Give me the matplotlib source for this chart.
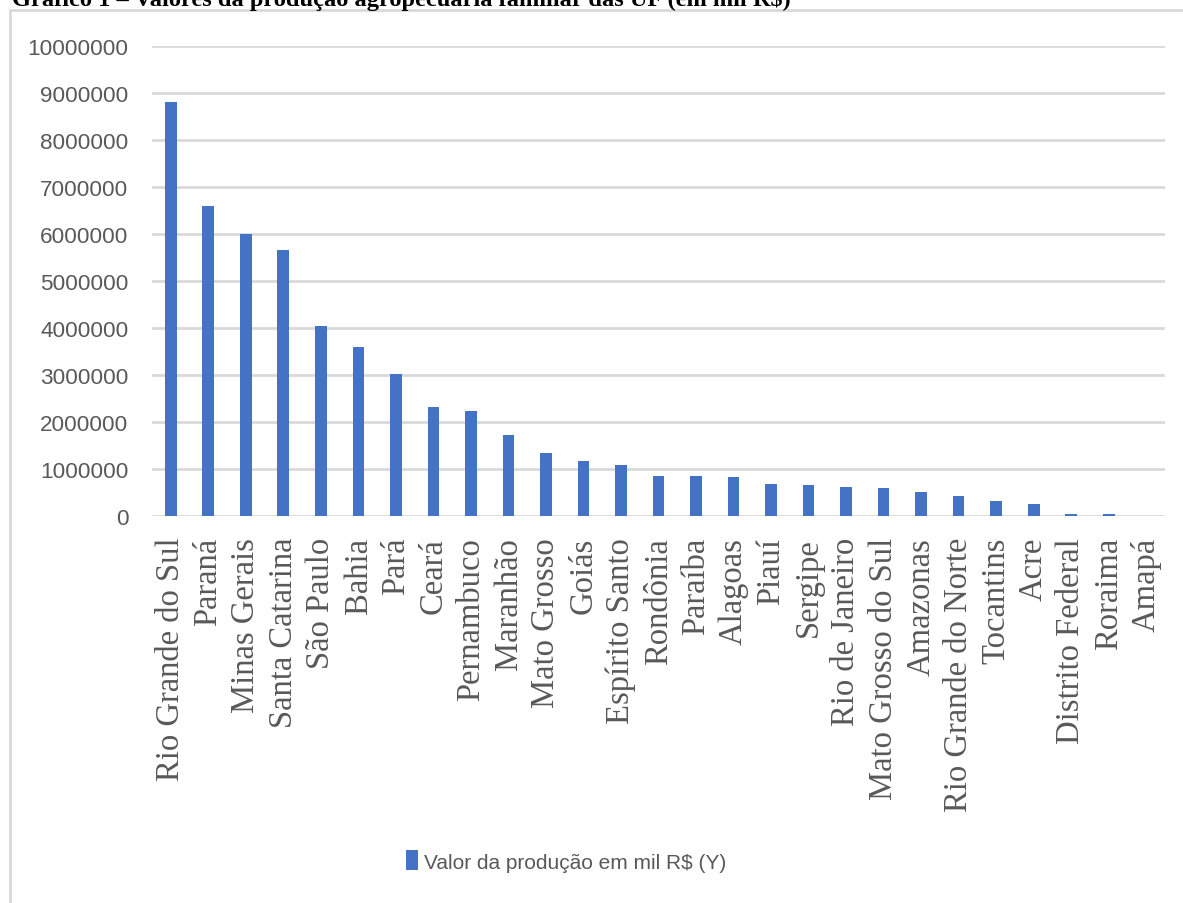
import matplotlib.pyplot as plt
from matplotlib.patches import Rectangle

# Dados (valores em mil R$)
estados = [
    "Rio Grande do Sul", "Paraná", "Minas Gerais", "Santa Catarina", "São Paulo",
    "Bahia", "Pará", "Ceará", "Pernambuco", "Maranhão", "Mato Grosso", "Goiás",
    "Espírito Santo", "Rondônia", "Paraíba", "Alagoas", "Piauí", "Sergipe",
    "Rio de Janeiro", "Mato Grosso do Sul", "Amazonas", "Rio Grande do Norte",
    "Tocantins", "Acre", "Distrito Federal", "Roraima", "Amapá",
]
valores = [
    8800000, 6600000, 6000000, 5660000, 4040000,
    3600000, 3020000, 2320000, 2240000, 1730000, 1330000, 1160000,
    1090000, 860000, 860000, 820000, 690000, 660000,
    620000, 590000, 520000, 420000,
    320000, 260000, 50000, 50000, 5000,
]
yticks = list(range(0, 10000001, 1000000))

TITULO = "Gráfico 1 – Valores da produção agropecuária familiar das UF (em mil R$)"
LEGENDA = "Valor da produção em mil R$ (Y)"

W, H = 1183, 904
AZUL = "#4472C4"
CINZA = "#d9d9d9"
TEXTO = "#595959"
SANS = ["Liberation Sans", "DejaVu Sans"]
SERIF = ["Liberation Serif", "DejaVu Serif"]

fig = plt.figure(figsize=(W / 100, H / 100), dpi=100)

# moldura do gráfico (cortada à direita e embaixo)
fig.patches.append(Rectangle((10 / W, -0.1), 1.2, 1.1 - 11 / H, transform=fig.transFigure,
                             fill=False, edgecolor=CINZA, linewidth=2))

# título, parcialmente cortado no topo (como na imagem original)
fig.text(12 / W, 1 - 6 / H, TITULO, fontsize=17.6, fontweight="bold", family=SERIF,
         ha="left", va="baseline", color="black")

ax = fig.add_axes([152 / W, 1 - 517 / H, (1165 - 152) / W, (517 - 47) / H])
x = list(range(len(estados)))
bars = ax.bar(x, valores, width=0.31, color=AZUL, zorder=3, label=LEGENDA)

ax.set_xlim(-0.5, len(estados) - 0.5)
ax.set_ylim(0, 10000000)
ax.set_yticks(yticks)
ax.set_yticklabels([str(v) for v in yticks], family=SANS, fontsize=16.2, color=TEXTO)
ax.set_xticks(x)
ax.set_xticklabels(estados, rotation=90, family=SERIF, fontsize=23.5, color=TEXTO,
                   ha="center", va="top")
ax.tick_params(axis="y", length=0, pad=17)
ax.tick_params(axis="x", length=0, pad=15)
ax.grid(True, axis="y", color=CINZA, linewidth=2, zorder=0)
ax.set_axisbelow(True)
for s in ax.spines.values():
    s.set_visible(False)

fig.legend(handles=[bars], labels=[LEGENDA], loc="center",
           bbox_to_anchor=(566 / W, 1 - 862 / H), frameon=False,
           prop={"family": SANS, "size": 15}, labelcolor=TEXTO,
           handlelength=0.6, handleheight=1.1, handletextpad=0.3)

fig.savefig("out.png", dpi=100, facecolor="white")
